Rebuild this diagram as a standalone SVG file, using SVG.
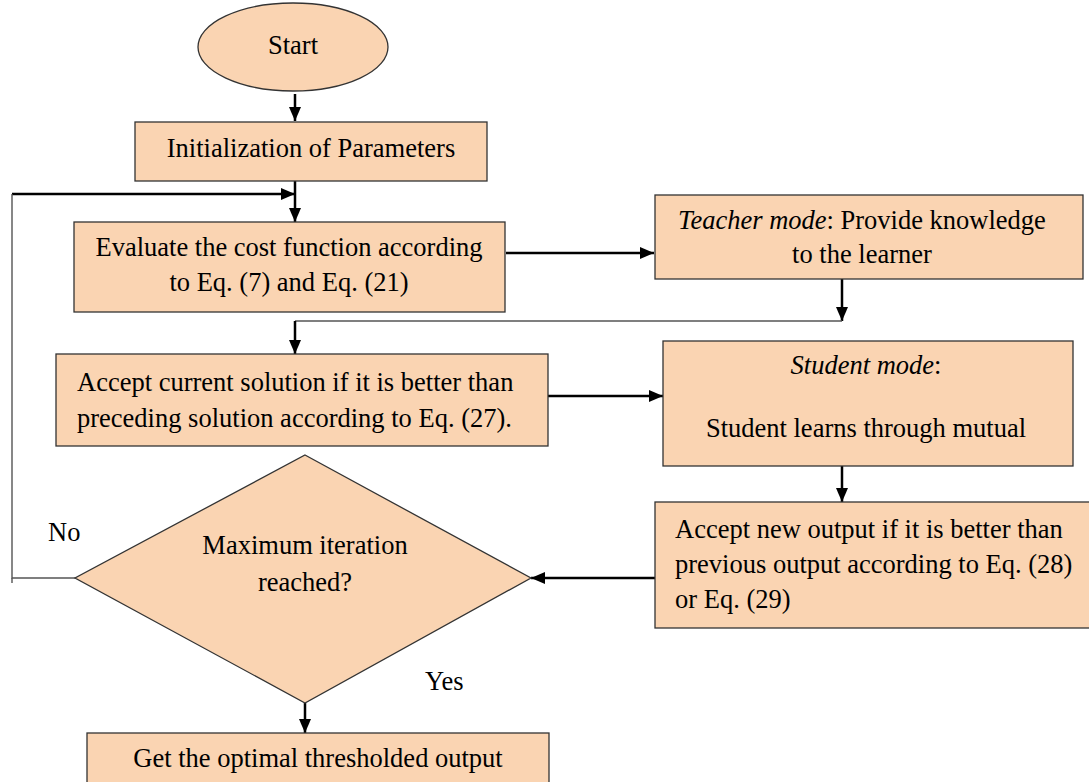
<svg xmlns="http://www.w3.org/2000/svg" width="1089" height="782" viewBox="0 0 1089 782">
<style>
.box{fill:#FAD4B2;stroke:#333;stroke-width:1.3}
.c{text-anchor:middle}
.a{stroke:#000;stroke-width:2.5;fill:none}
.thin{stroke:#555;stroke-width:1.4;fill:none}
</style>
<defs>
<marker id="ah" markerWidth="14" markerHeight="12" refX="14" refY="6" orient="auto" markerUnits="userSpaceOnUse">
<path d="M0,0 L14,6 L0,12 Z" fill="#000"/>
</marker>
</defs>
<rect width="1089" height="782" fill="#fff"/>
<g id="connectors">
<line class="a" x1="295" y1="94" x2="295" y2="121" marker-end="url(#ah)"/>
<line class="a" x1="295" y1="181" x2="295" y2="222" marker-end="url(#ah)"/>
<line class="a" x1="12" y1="194" x2="295" y2="194" marker-end="url(#ah)"/>
<polyline class="thin" points="75,578 12,578 12,194"/>
<line class="thin" x1="12" y1="578" x2="12" y2="583"/>
<line class="a" x1="506" y1="253" x2="654" y2="253" marker-end="url(#ah)"/>
<line class="a" x1="842" y1="279" x2="842" y2="321" marker-end="url(#ah)"/>
<line class="thin" x1="842" y1="321" x2="295" y2="321"/>
<line class="a" x1="295" y1="321" x2="295" y2="354" marker-end="url(#ah)"/>
<line class="a" x1="548" y1="396" x2="663" y2="396" marker-end="url(#ah)"/>
<line class="a" x1="842" y1="466" x2="842" y2="502" marker-end="url(#ah)"/>
<line class="a" x1="655" y1="578" x2="531" y2="578" marker-end="url(#ah)"/>
<line class="a" x1="305" y1="703" x2="305" y2="733" marker-end="url(#ah)"/>
</g>
<g font-family="Liberation Serif, Times New Roman, serif" font-size="26.5" fill="#000">
<g id="start">
<ellipse class="box" cx="293" cy="47" rx="95" ry="44"/>
<text class="c" x="293" y="54">Start</text>
</g>
<g id="init">
<rect class="box" x="135" y="122" width="352" height="59"/>
<text class="c" x="311" y="157">Initialization of Parameters</text>
</g>
<g id="evaluate">
<rect class="box" x="74" y="222" width="431" height="90"/>
<text class="c" x="289" y="256">Evaluate the cost function according</text>
<text class="c" x="289" y="291">to Eq. (7) and Eq. (21)</text>
</g>
<g id="teacher">
<rect class="box" x="655" y="195" width="428" height="84"/>
<text class="c" x="862" y="229"><tspan font-style="italic">Teacher mode</tspan>: Provide knowledge</text>
<text class="c" x="862" y="263">to the learner</text>
</g>
<g id="accept-current">
<rect class="box" x="56" y="354" width="492" height="92"/>
<text x="77" y="391">Accept current solution if it is better than</text>
<text x="77" y="427">preceding solution according to Eq. (27).</text>
</g>
<g id="student">
<rect class="box" x="663" y="341" width="410" height="125"/>
<text class="c" x="866" y="374"><tspan font-style="italic">Student mode</tspan>:</text>
<text class="c" x="866" y="437">Student learns through mutual</text>
</g>
<g id="accept-new">
<rect class="box" x="655" y="502" width="440" height="126"/>
<text x="675" y="538">Accept new output if it is better than</text>
<text x="675" y="573">previous output according to Eq. (28)</text>
<text x="675" y="608">or Eq. (29)</text>
</g>
<g id="decision">
<polygon class="box" points="305,455 531,578 305,703 75,578"/>
<text class="c" x="305" y="554">Maximum iteration</text>
<text class="c" x="305" y="591">reached?</text>
</g>
<g id="labels">
<text x="48" y="541">No</text>
<text x="425" y="690">Yes</text>
</g>
<g id="final">
<rect class="box" x="87" y="733" width="462" height="60"/>
<text class="c" x="318" y="767">Get the optimal thresholded output</text>
</g>
</g>
</svg>
